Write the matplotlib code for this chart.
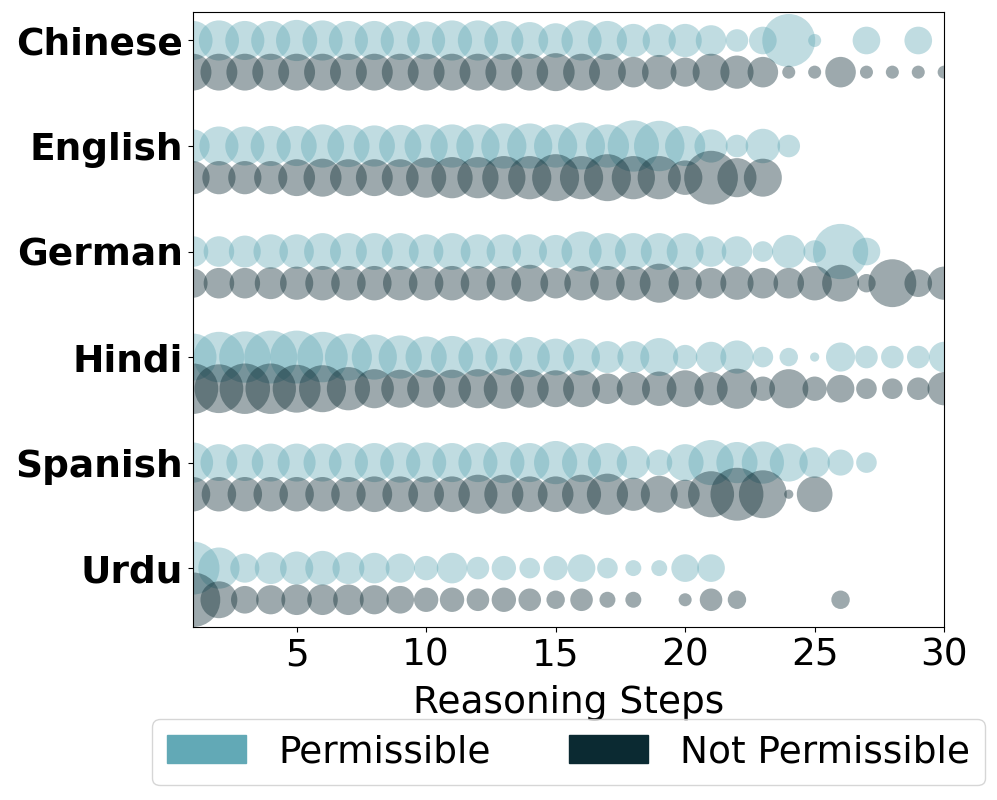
# Import dependencies
import numpy as np
import matplotlib
matplotlib.use("Agg")
import matplotlib.pyplot as plt
from matplotlib.patches import Patch

# Data: bubble counts per reasoning step (steps 1..30)
languages = ["Chinese", "English", "German", "Hindi", "Spanish", "Urdu"]
steps = np.arange(1, 31)

chinese_perm = [9, 9.5, 9, 9, 10, 9.5, 9, 9, 9, 8.5, 9.5, 9.5, 9, 8, 7, 9.5, 9, 6.5, 6.5, 6.5,
                5.5, 3, 4.5, 16.5, 1, 0, 4.5, 0, 4.5, 0]
chinese_not = [8, 8, 8, 8, 8, 8, 8, 8, 8, 8, 8, 8, 8, 8, 8.5, 8, 8, 5.5, 7, 5,
               8, 6.5, 5.5, 1, 1, 5.5, 1, 1, 1, 1]
english_perm = [6.5, 9, 9, 9.5, 9.5, 11, 10.5, 10, 10.5, 11, 11, 11, 12, 12, 11, 13, 11, 15.5, 15, 9.5,
                6.5, 3, 7, 3, 0, 0, 0, 0, 0, 0]
english_not = [6.5, 6.5, 6.5, 6.5, 8, 8.5, 8, 8, 8, 9.5, 10, 10, 11, 11, 13, 11, 13, 11, 11, 7,
               17, 9, 8.5, 0, 0, 0, 0, 0, 0, 0]
german_perm = [5.5, 5.5, 6, 7, 7, 8, 8, 8, 8, 7, 8, 7, 7, 7, 6.5, 9.5, 8, 8, 8, 8,
               5.5, 5.5, 2.5, 6.5, 3, 18, 4.5, 0, 0, 0]
german_not = [5, 5.5, 5.5, 6, 6.5, 7, 7, 7, 7, 7, 7, 7, 7, 8, 5.5, 7, 7, 7, 9, 6.5,
              5.5, 6.5, 5.5, 5.5, 7, 8, 2, 13.5, 4.5, 6.5]
hindi_perm = [13, 15, 15.5, 16.5, 16.5, 15, 13, 12, 11, 10, 10.5, 9, 8, 9.5, 8, 8, 6, 6, 8.5, 3.5,
              5.5, 6.5, 2.5, 2, 0.5, 5, 3, 3, 3, 5.5]
hindi_not = [15, 14, 15, 15, 13.5, 13, 11, 9, 8.5, 8.5, 8.5, 9, 9.5, 8.5, 8, 8, 5.5, 6.5, 7, 8,
             6.5, 9.5, 3.5, 9, 3.5, 4.5, 2.5, 2.5, 3, 6.5]
spanish_perm = [9.5, 8, 8, 8.5, 8.5, 8.5, 9, 9, 9.5, 9.5, 9, 9, 10, 9, 11, 9, 9, 6.5, 4, 8,
                12, 10, 10.5, 8.5, 5.5, 4, 2.5, 0, 0, 0]
spanish_not = [7, 7, 7, 7, 7, 7, 7, 7.5, 7.5, 7.5, 7.5, 9, 9, 7.5, 7.5, 9, 10, 6.5, 8, 5,
               12.5, 16.5, 13.5, 0.5, 7.5, 0, 0, 0, 0, 0]
urdu_perm = [16.5, 10, 5, 6, 6.5, 7, 6, 5.5, 5, 3.5, 5.5, 3, 3.5, 2.5, 3.5, 4.5, 2.5, 1.5, 1.5, 4.5,
             4.5, 0, 0, 0, 0, 0, 0, 0, 0, 0]
urdu_not = [17.5, 8, 4.5, 5, 5.5, 5.5, 5.5, 5, 4.5, 3.5, 3.5, 3, 3.5, 3, 2, 3, 1.5, 1.5, 0, 1,
            3, 2, 0, 0, 0, 2, 0, 0, 0, 0]

perm = [chinese_perm, english_perm, german_perm, hindi_perm, spanish_perm, urdu_perm]
not_perm = [chinese_not, english_not, german_not, hindi_not, spanish_not, urdu_not]

perm_color = "#62A9B6"
not_color = "#0B2A32"
size_scale = 88

fig, ax = plt.subplots(figsize=(9.97, 8), dpi=100)
fig.subplots_adjust(left=0.1936, right=0.947, top=0.985, bottom=0.216)

for i, lang in enumerate(languages):
    p = np.array(perm[i])
    n = np.array(not_perm[i])
    mp = p > 0
    mn = n > 0
    ax.scatter(steps[mp], np.full(mp.sum(), i), s=p[mp] * size_scale,
               color=perm_color, alpha=0.4, edgecolors="none")
    ax.scatter(steps[mn], np.full(mn.sum(), i + 0.3), s=n[mn] * size_scale,
               color=not_color, alpha=0.4, edgecolors="none")

ax.set_xlim(1, 30)
ax.set_ylim(5.56, -0.27)
ax.set_xticks([5, 10, 15, 20, 25, 30])
ax.set_yticks(range(len(languages)))
ax.set_yticklabels(languages, fontsize=27, fontweight="bold")
ax.tick_params(axis="x", labelsize=27, pad=4)
ax.set_xlabel("Reasoning Steps", fontsize=27, labelpad=8)

handles = [Patch(color=perm_color, label="Permissible"),
           Patch(color=not_color, label="Not Permissible")]
ax.legend(handles=handles, loc="upper center", bbox_to_anchor=(0.5, -0.15), ncol=2,
          fontsize=27, borderaxespad=0, handlelength=2.1, handleheight=0.77,
          handletextpad=0.85, columnspacing=2.1)

plt.savefig("out.png", dpi=100)
